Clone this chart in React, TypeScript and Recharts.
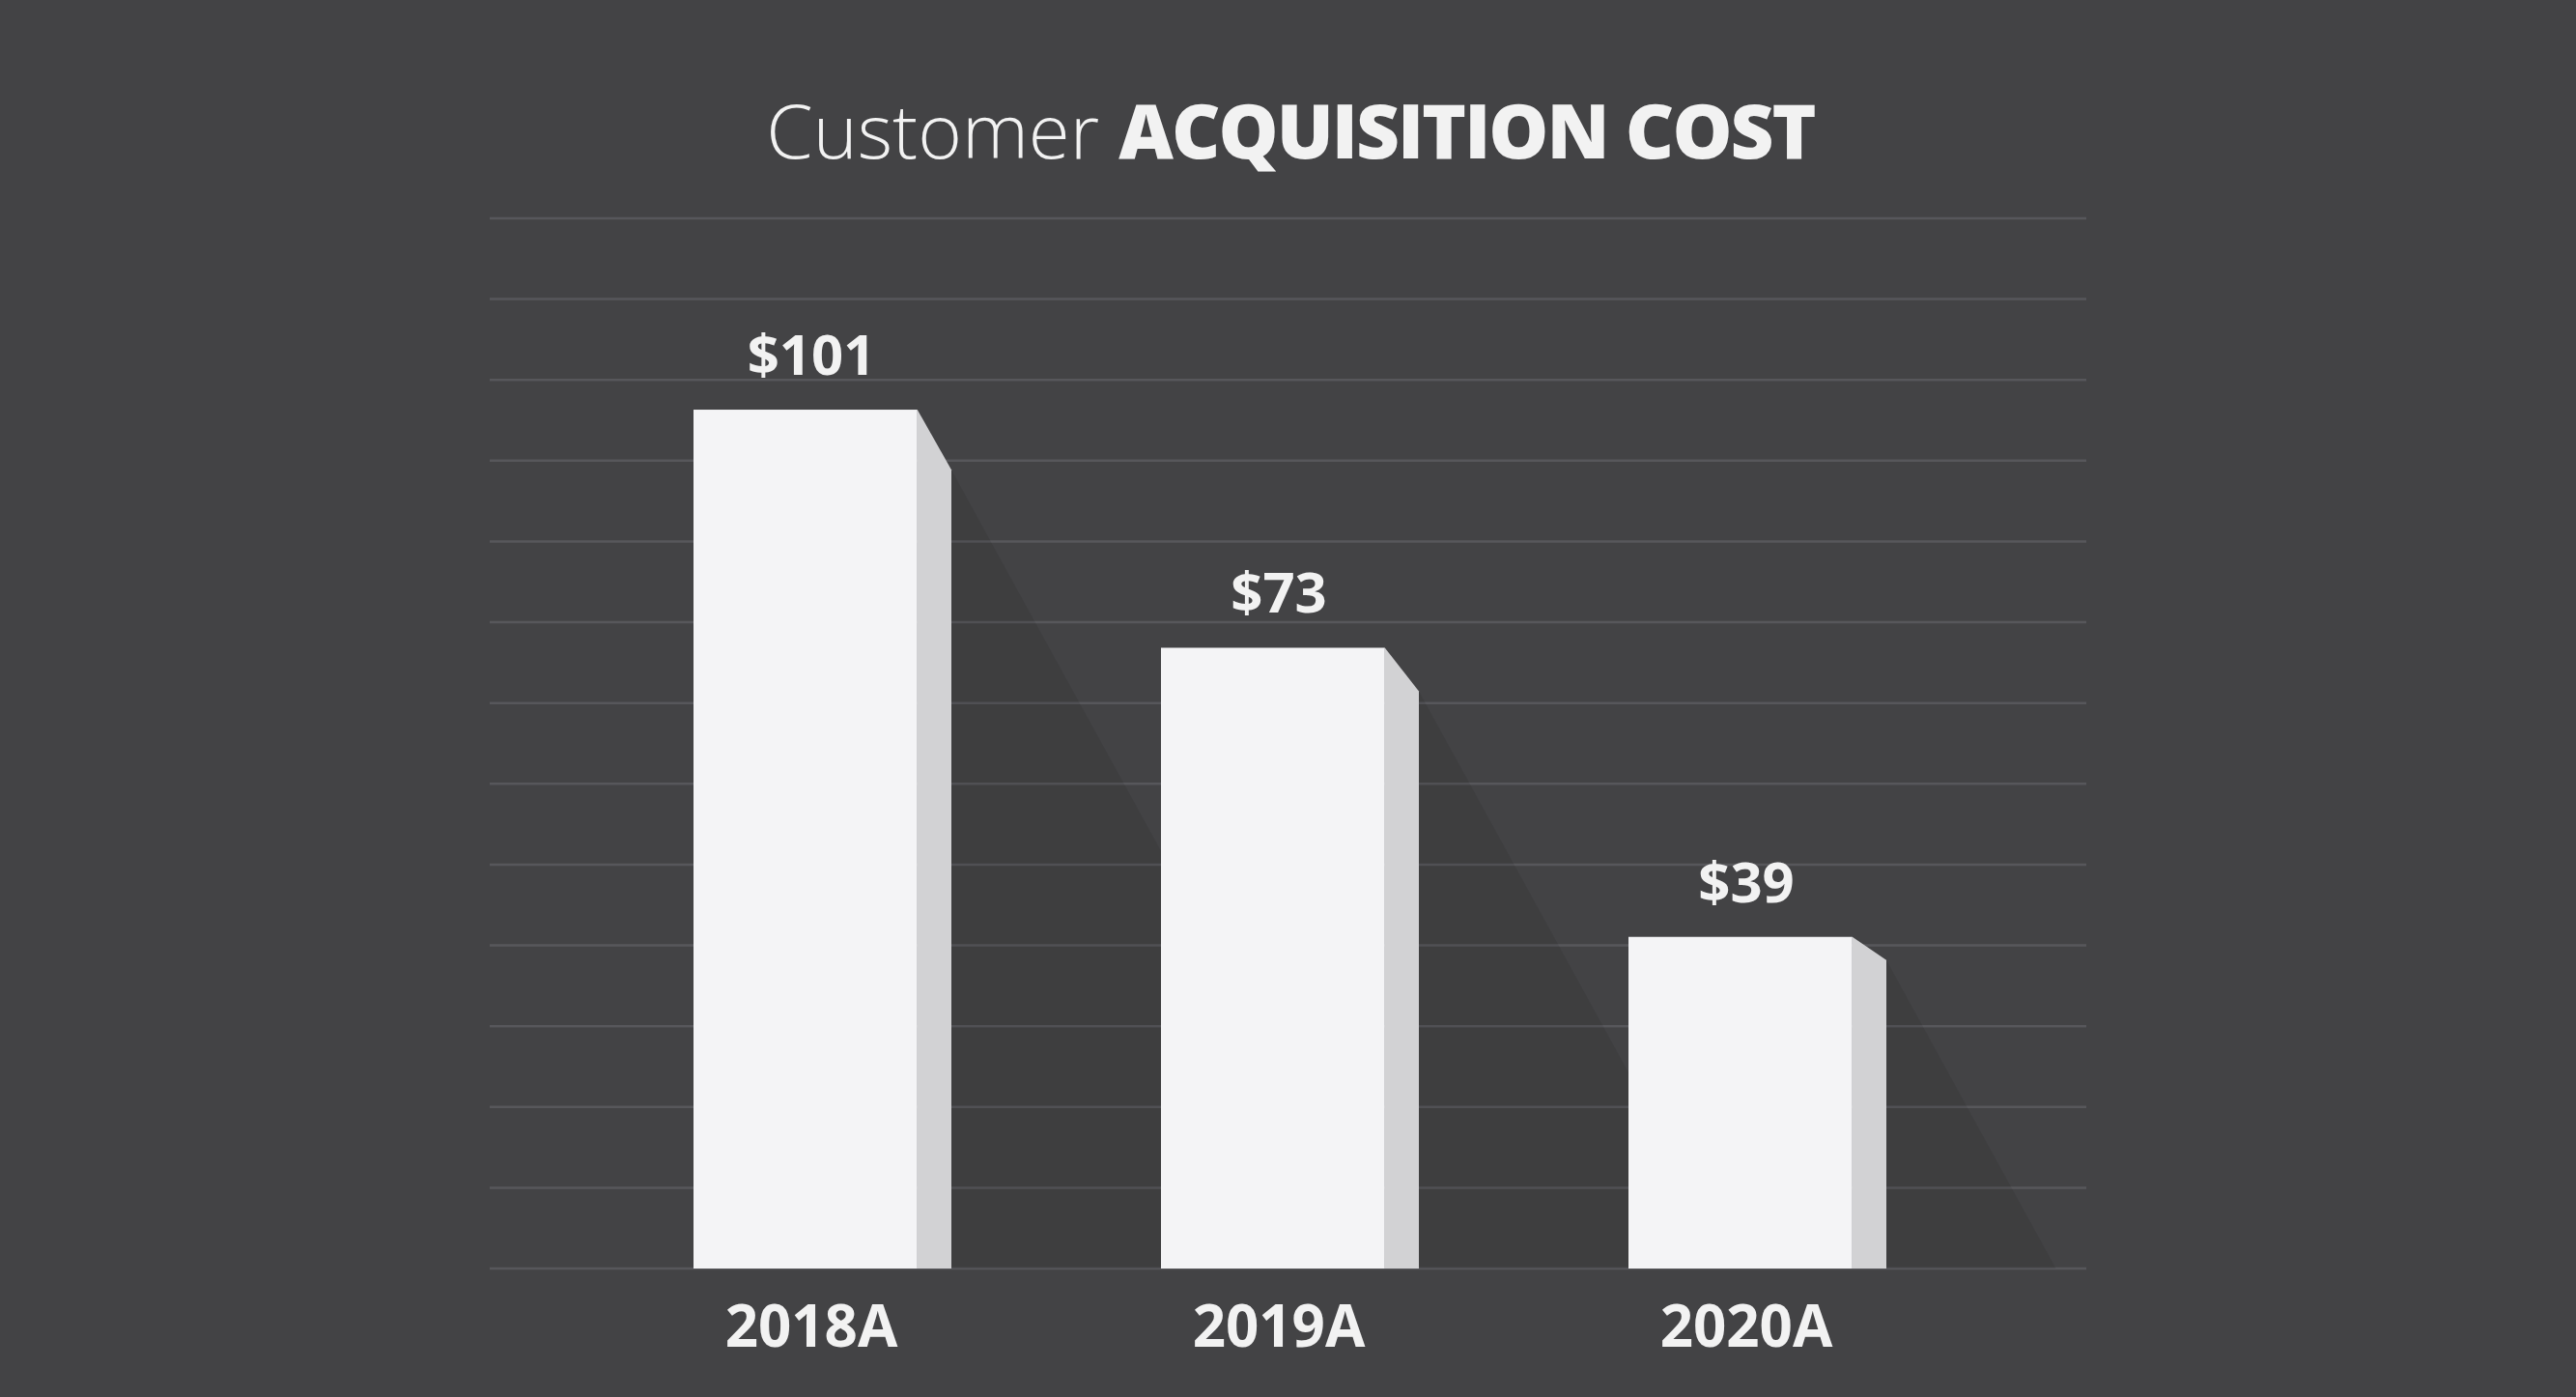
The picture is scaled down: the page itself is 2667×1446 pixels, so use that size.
import React from "react";
import { BarChart, Bar, XAxis, YAxis, CartesianGrid, LabelList } from "recharts";

const categories = ["2018A", "2019A", "2020A"];
const costs = [101, 73, 39];
// 13 equal grid bands, like the reference
const gridTicks = [0, 9.5, 19, 28.5, 38, 47.5, 57, 66.5, 76, 85.5, 95, 104.5, 114, 123.5];

const data = categories.map((year, i) => ({ year, cost: costs[i] }));

const BG = "#434345";
const FONT = "'Open Sans', 'DejaVu Sans', sans-serif";

const BoxBar = (props: any) => {
  const { x, y, width, height } = props;
  const front = width * 0.868;
  const right = x + width;
  const dy = height * 0.07;
  const bottom = y + height;
  return (
    <g>
      <polygon
        points={`${right},${y + dy} ${right + (height - dy) * 0.55},${bottom} ${right},${bottom}`}
        fill="rgba(0,0,0,0.075)"
      />
      <polygon
        points={`${x + front},${y} ${right},${y + dy} ${right},${bottom} ${x + front},${bottom}`}
        fill="#d2d2d4"
      />
      <rect x={x} y={y} width={front} height={height} fill="#f4f4f6" />
    </g>
  );
};

const ValueLabel = (props: any) => {
  const { x, y, value } = props;
  return (
    <text
      x={x + 122}
      y={y - 36}
      textAnchor="middle"
      fill="#f2f2f2"
      fontFamily={FONT}
      fontWeight={700}
      fontSize={58}
    >
      ${value}
    </text>
  );
};

const YearTick = (props: any) => {
  const { x, y, payload } = props;
  return (
    <text
      x={x - 11}
      y={y + 81}
      textAnchor="middle"
      fill="#f2f2f2"
      fontFamily={FONT}
      fontWeight={700}
      fontSize={60}
    >
      {payload.value}
    </text>
  );
};

export default function App() {
  return (
    <div
      style={{
        position: "absolute",
        left: 0,
        top: 0,
        width: 2667,
        height: 1446,
        background: BG,
        overflow: "hidden",
      }}
    >
      <svg width={2667} height={200} style={{ position: "absolute", left: 0, top: 0 }}>
        <text x={1336} y={164} textAnchor="middle" fill="#f2f2f2" fontFamily={FONT} fontSize={78}>
          <tspan fontWeight={300}>Customer </tspan>
          <tspan fontWeight={800} letterSpacing={-2}>
            ACQUISITION COST
          </tspan>
        </text>
      </svg>
      <BarChart
        width={2667}
        height={1446}
        data={data}
        margin={{ top: 226, right: 507, bottom: 33, left: 507 }}
        style={{ position: "absolute", left: 0, top: 0 }}
      >
        <CartesianGrid vertical={false} stroke="#57575b" strokeWidth={2.5} />
        <XAxis
          dataKey="year"
          height={100}
          axisLine={false}
          tickLine={false}
          tickSize={0}
          tickMargin={0}
          padding={{ left: 102, right: 99 }}
          tick={<YearTick />}
        />
        <YAxis hide domain={[0, 123.5]} ticks={gridTicks} />
        <Bar dataKey="cost" barSize={267} shape={<BoxBar />} isAnimationActive={false}>
          <LabelList dataKey="cost" content={<ValueLabel />} />
        </Bar>
      </BarChart>
    </div>
  );
}
